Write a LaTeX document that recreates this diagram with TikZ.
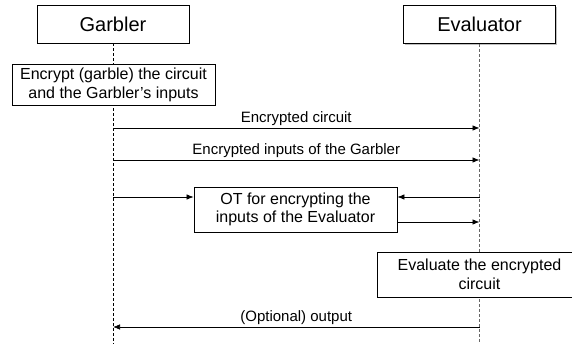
\documentclass[tikz,border=0pt]{standalone}
\usepackage{fontspec}
\setmainfont{Liberation Sans}
\usetikzlibrary{arrows.meta,shadows}

\tikzset{
  party/.style={draw, fill=white, line width=0.8pt, minimum width=152pt, minimum height=38pt,
    font=\fontsize{20}{24}\selectfont,
    drop shadow={shadow xshift=1.2pt, shadow yshift=-1.2pt, fill=black!50, opacity=0.5}},
  task/.style={draw, fill=white, line width=0.8pt, align=center, inner sep=0pt,
    font=\fontsize{16}{18.5}\selectfont},
  lifeline/.style={line width=0.7pt, dash pattern=on 3pt off 2pt},
  msg/.style={line width=0.7pt, -{Latex[length=7pt,width=5.5pt]}},
  lbl/.style={above=1pt, inner sep=1pt, font=\fontsize{15}{17.5}\selectfont}
}

\begin{document}
\begin{tikzpicture}[x=1pt,y=-1pt]

\clip (0,0) rectangle (572,344);

% Parties
\node[party] (garbler) at (113,24) {Garbler};
\node[party] (evaluator) at (479.5,24.5) {Evaluator};

% Lifelines
\coordinate (gend) at (113,344);
\coordinate (eend) at (479.5,344);
\draw[lifeline] (garbler.south) -- (gend);
\draw[lifeline, black!60] (evaluator.south) -- (eend);

% Garbling step
\node[task, minimum width=203pt, minimum height=41pt] (garble) at (113.5,85)
  {Encrypt (garble) the circuit\\and the Garbler's inputs};

% Encrypted circuit
\coordinate (g1) at (113,128);
\coordinate (e1) at (479.5,128);
\draw[msg] (g1) -- node[lbl] {Encrypted circuit} (e1);

% Encrypted inputs
\coordinate (g2) at (113,160);
\coordinate (e2) at (479.5,160);
\draw[msg] (g2) -- node[lbl] {Encrypted inputs of the Garbler} (e2);

% Oblivious transfer
\node[task, minimum width=203pt, minimum height=45pt] (ot) at (295.5,209.5)
  {OT for encrypting the\\inputs of the Evaluator};
\coordinate (g3) at (113,197);
\coordinate (e3) at (479.5,197);
\coordinate (e4) at (479.5,222);
\draw[msg] (g3) -- (ot.west |- g3);
\draw[msg] (e3) -- (ot.east |- e3);
\draw[msg] (ot.east |- e4) -- (e4);

% Evaluation step
\node[task, minimum width=204pt, minimum height=45pt] (evaluate) at (479.5,274.5)
  {Evaluate the encrypted\\circuit};

% Output
\coordinate (e5) at (479.5,327);
\coordinate (g5) at (113,327);
\draw[msg] (e5) -- node[lbl] {(Optional) output} (g5);

\end{tikzpicture}
\end{document}
